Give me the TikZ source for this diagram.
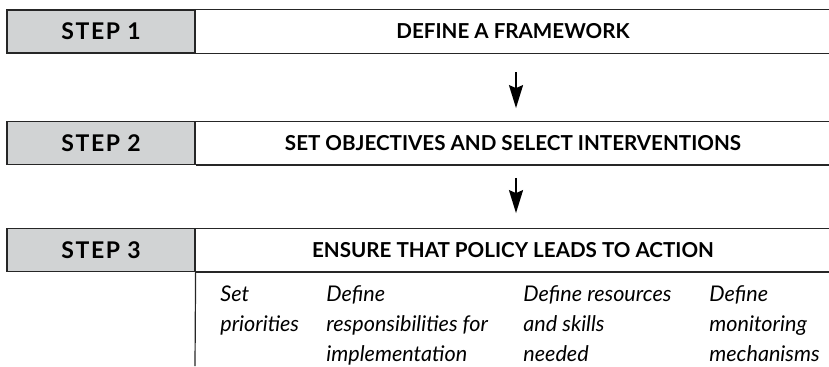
\documentclass[tikz,border=0pt]{standalone}
\usepackage{fontspec}
\setmainfont{Lato}
\usetikzlibrary{arrows.meta,positioning}
\definecolor{stepgray}{RGB}{209,211,212}
\tikzset{stepbox/.style={draw=black!85, fill=stepgray, line width=0.6pt, minimum width=94pt, minimum height=21.5pt, inner sep=0pt, font=\bfseries\fontsize{11.5}{13}\selectfont\addfontfeature{LetterSpace=7}}}
\tikzset{titlebox/.style={minimum width=317pt, minimum height=21.5pt, inner sep=0pt, font=\bfseries\fontsize{10.3}{12}\selectfont}}
\tikzset{rule/.style={draw=black!85, line width=0.6pt}}
\tikzset{stepflow/.style={-{Stealth[length=11.5pt,width=7pt,inset=1.5pt]}, line width=1pt}}
\tikzset{task/.style={anchor=north west, align=left, inner sep=0pt, font=\itshape\fontsize{10.8}{15}\selectfont}}

\begin{document}
\begin{tikzpicture}[x=0.5pt,y=-0.5pt]
	\useasboundingbox (0,0) rectangle (829,366);
	
	\node[stepbox] (s1) at (101,31.5) {STEP 1};
	\node[titlebox, right=0pt of s1] (t1) {DEFINE A FRAMEWORK};
	\node[stepbox] (s2) at (101,143) {STEP 2};
	\node[titlebox, right=0pt of s2] (t2) {SET OBJECTIVES AND SELECT INTERVENTIONS};
	\node[stepbox] (s3) at (101,250) {STEP 3};
	\node[titlebox, right=0pt of s3] (t3) {ENSURE THAT POLICY LEADS TO ACTION};
	
	\path[rule] (t1.north west) -- (t1.north east) (t1.south west) -- (t1.south east)
		(t2.north west) -- (t2.north east) (t2.south west) -- (t2.south east)
		(t3.north west) -- (t3.north east) (t3.south west) -- (t3.south east);
	
	\coordinate (base) at (195,366);
	\draw[rule] (t3.south west) -- (base);
	
	\draw[stepflow, shorten <=9.5pt, shorten >=6.5pt] ([xshift=1.5pt]t1.south) -- ([xshift=1.5pt]t2.north);
	\draw[stepflow, shorten <=6.5pt, shorten >=7.5pt] ([xshift=1.5pt]t2.south) -- ([xshift=1.5pt]t3.north);
	
	\node[task] (k1) at (220,280) {\strut Set\\priorities};
	\node[task] (k2) at (326,280) {\strut Define\\responsibilities for\\implementation};
	\node[task] (k3) at (523,280) {\strut Define resources\\and skills\\needed};
	\node[task] (k4) at (709,280) {\strut Define\\monitoring\\mechanisms};
\end{tikzpicture}
\end{document}
